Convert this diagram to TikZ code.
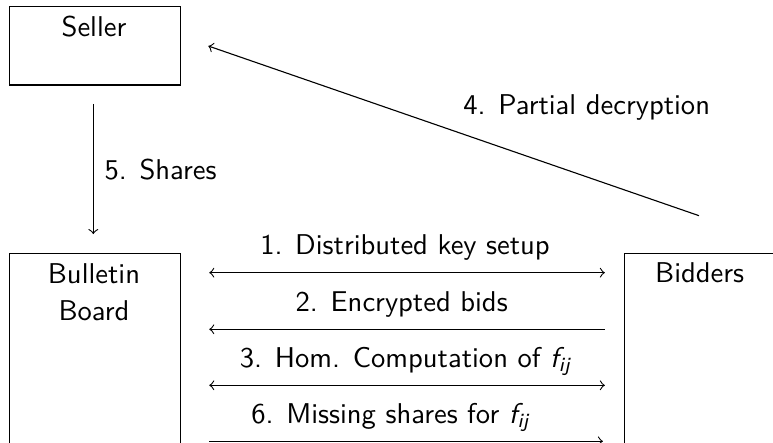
\documentclass[tikz,border=0pt]{standalone}
\usetikzlibrary{calc}
\begin{document}
\begin{tikzpicture}[x=0.36pt,y=-0.36pt,
  every node/.style={font=\sffamily\fontsize{10.3}{13.2}\selectfont},
  box/.style={draw,line width=0.4pt,inner sep=0pt,anchor=north west},
  lbl/.style={inner sep=0pt,anchor=base},
  conn/.style={line width=0.4pt},
  hshort/.style={shorten <=10.3pt,shorten >=6.7pt}]
\clip (0,0) rectangle (773,443);
\useasboundingbox (0,0) rectangle (773,443);
% boxes
\node[box,minimum width=171*0.36pt,minimum height=78.5*0.36pt] (seller) at (8.5,6) {};
\node[box,minimum width=171*0.36pt,minimum height=210*0.36pt] (board) at (8.5,253) {};
\node[box,minimum width=160*0.36pt,minimum height=210*0.36pt] (bidders) at (623.5,253) {};
% box texts
\node[lbl] (sellertxt) at (94,37) {Seller};
\node[inner sep=0pt,anchor=north,align=center] (boardtxt) at (94,263.5) {Bulletin\\Board};
\node[lbl] (bidderstxt) at (699.7,282.7) {Bidders};
% row coordinates
\coordinate (r1) at (0,272.7);
\coordinate (r2) at (0,329.3);
\coordinate (r3) at (0,385.3);
\coordinate (r6) at (0,441.3);
% horizontal connectors
\draw[conn,<->,hshort] (board.east |- r1) -- (bidders.west |- r1);
\draw[conn,<-,shorten <=10.3pt,shorten >=6.7pt] (board.east |- r2) -- (bidders.west |- r2);
\draw[conn,<->,hshort] (board.east |- r3) -- (bidders.west |- r3);
\draw[conn,->,shorten <=10.3pt,shorten >=7.4pt] (board.east |- r6) -- (bidders.west |- r6);
% labels of horizontal connectors
\node[lbl] (l1) at (405,255) {1. Distributed key setup};
\node[lbl] (l2) at (401.7,311.7) {2. Encrypted bids};
\node[lbl] (l3) at (405.5,367.6) {3. Hom. Computation of {\slshape f}\textsubscript{\slshape ij}};
\node[lbl] (l6) at (390.5,423.3) {6. Missing shares for {\slshape f}\textsubscript{\slshape ij}};
% shares
\draw[conn,->,shorten <=6.6pt,shorten >=6.8pt] (seller.south -| 93.3,0) -- (board.north -| 93.3,0);
\node[inner sep=0pt,anchor=base west] (l5) at (104,180) {5. Shares};
% partial decryption
\coordinate (pdstart) at (699,215.7);
\coordinate (pdend) at (208.3,46);
\draw[conn,->] (pdstart) -- (pdend);
\node[lbl] (l4) at (586.7,115) {4. Partial decryption};
\end{tikzpicture}
\end{document}
